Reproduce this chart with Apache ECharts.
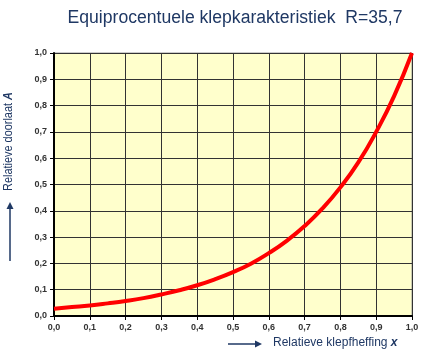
<!DOCTYPE html>
<html><head><meta charset="utf-8">
<script src="https://cdn.jsdelivr.net/npm/echarts@6/dist/echarts.min.js"></script>
<style>html,body{margin:0;padding:0;background:#fff}#c{width:423px;height:359px}</style>
</head><body><div id="c"></div>
<script>
const titleText = 'Equiprocentuele klepkarakteristiek  R=35,7';
const xValues = [0,0.05,0.1,0.15,0.2,0.25,0.3,0.35,0.4,0.45,0.5,0.55,0.6,0.65,0.7,0.75,0.8,0.85,0.9,0.95,1.0];
const aValues = [0.028,0.034,0.040,0.048,0.057,0.068,0.082,0.098,0.117,0.140,0.167,0.199,0.239,0.286,0.342,0.409,0.489,0.584,0.700,0.836,1.0];
const xAxisName = 'Relatieve klepfheffing';
const xAxisSymbol = 'x';
const yAxisName = 'Relatieve doorlaat';
const yAxisSymbol = 'A';

const chart = echarts.init(document.getElementById('c'));
const fmt = v => v.toFixed(1).replace('.', ',');
const navy = '#1F3864';
chart.setOption({
  animation: false,
  backgroundColor: '#fff',
  title: {
    text: titleText, left: 230, top: 4, textAlign: 'center',
    textStyle: {fontFamily: 'Liberation Sans', fontSize: 17.6, fontWeight: 'normal', color: navy}
  },
  grid: {left: 54, right: 11, top: 53, bottom: 43, show: true, backgroundColor: '#FFFFCC', borderColor: '#999', borderWidth: 1},
  xAxis: {
    type: 'value', min: 0, max: 1, interval: 0.1,
    axisLine: {lineStyle: {color: '#000', width: 2}},
    axisTick: {show: true, length: 4, lineStyle: {color: '#000'}},
    axisLabel: {formatter: fmt, color: '#333', fontFamily: 'Liberation Sans', fontWeight: 'bold', fontSize: 9, margin: 7},
    splitLine: {lineStyle: {color: '#333', width: 1}}
  },
  yAxis: {
    type: 'value', min: 0, max: 1, interval: 0.1,
    axisLine: {show: true, lineStyle: {color: '#000', width: 2}},
    axisTick: {show: true, length: 4, lineStyle: {color: '#000'}},
    axisLabel: {formatter: fmt, color: '#333', fontFamily: 'Liberation Sans', fontWeight: 'bold', fontSize: 9, margin: 7},
    splitLine: {lineStyle: {color: '#333', width: 1}}
  },
  series: [{
    type: 'line', smooth: true, showSymbol: false,
    data: xValues.map((x, i) => [x, aValues[i]]),
    lineStyle: {color: '#FF0000', width: 4}, z: 5
  }],
  graphic: [
    {type: 'text', x: 273, y: 337, style: {
      text: '{n|' + xAxisName + ' }{s|' + xAxisSymbol + '}',
      rich: {n: {fontFamily: 'Liberation Sans', fontSize: 12, fill: navy},
             s: {fontFamily: 'Liberation Sans', fontSize: 12, fontWeight: 'bold', fontStyle: 'italic', fill: navy}}
    }},
    {type: 'line', shape: {x1: 228, y1: 344, x2: 258, y2: 344}, style: {stroke: navy, lineWidth: 1.5}},
    {type: 'polygon', shape: {points: [[262, 344], [255, 340.5], [255, 347.5]]}, style: {fill: navy}},
    {type: 'text', x: 3, y: 191, rotation: Math.PI / 2, scaleX: 0.91, style: {
      text: '{n|' + yAxisName + ' }{s|' + yAxisSymbol + '}',
      rich: {n: {fontFamily: 'Liberation Sans', fontSize: 12, fill: navy},
             s: {fontFamily: 'Liberation Sans', fontSize: 12, fontWeight: 'bold', fontStyle: 'italic', fill: navy}}
    }},
    {type: 'line', shape: {x1: 10, y1: 261, x2: 10, y2: 208}, style: {stroke: navy, lineWidth: 1.5}},
    {type: 'polygon', shape: {points: [[10, 202], [6.5, 209], [13.5, 209]]}, style: {fill: navy}}
  ]
});
</script></body></html>
